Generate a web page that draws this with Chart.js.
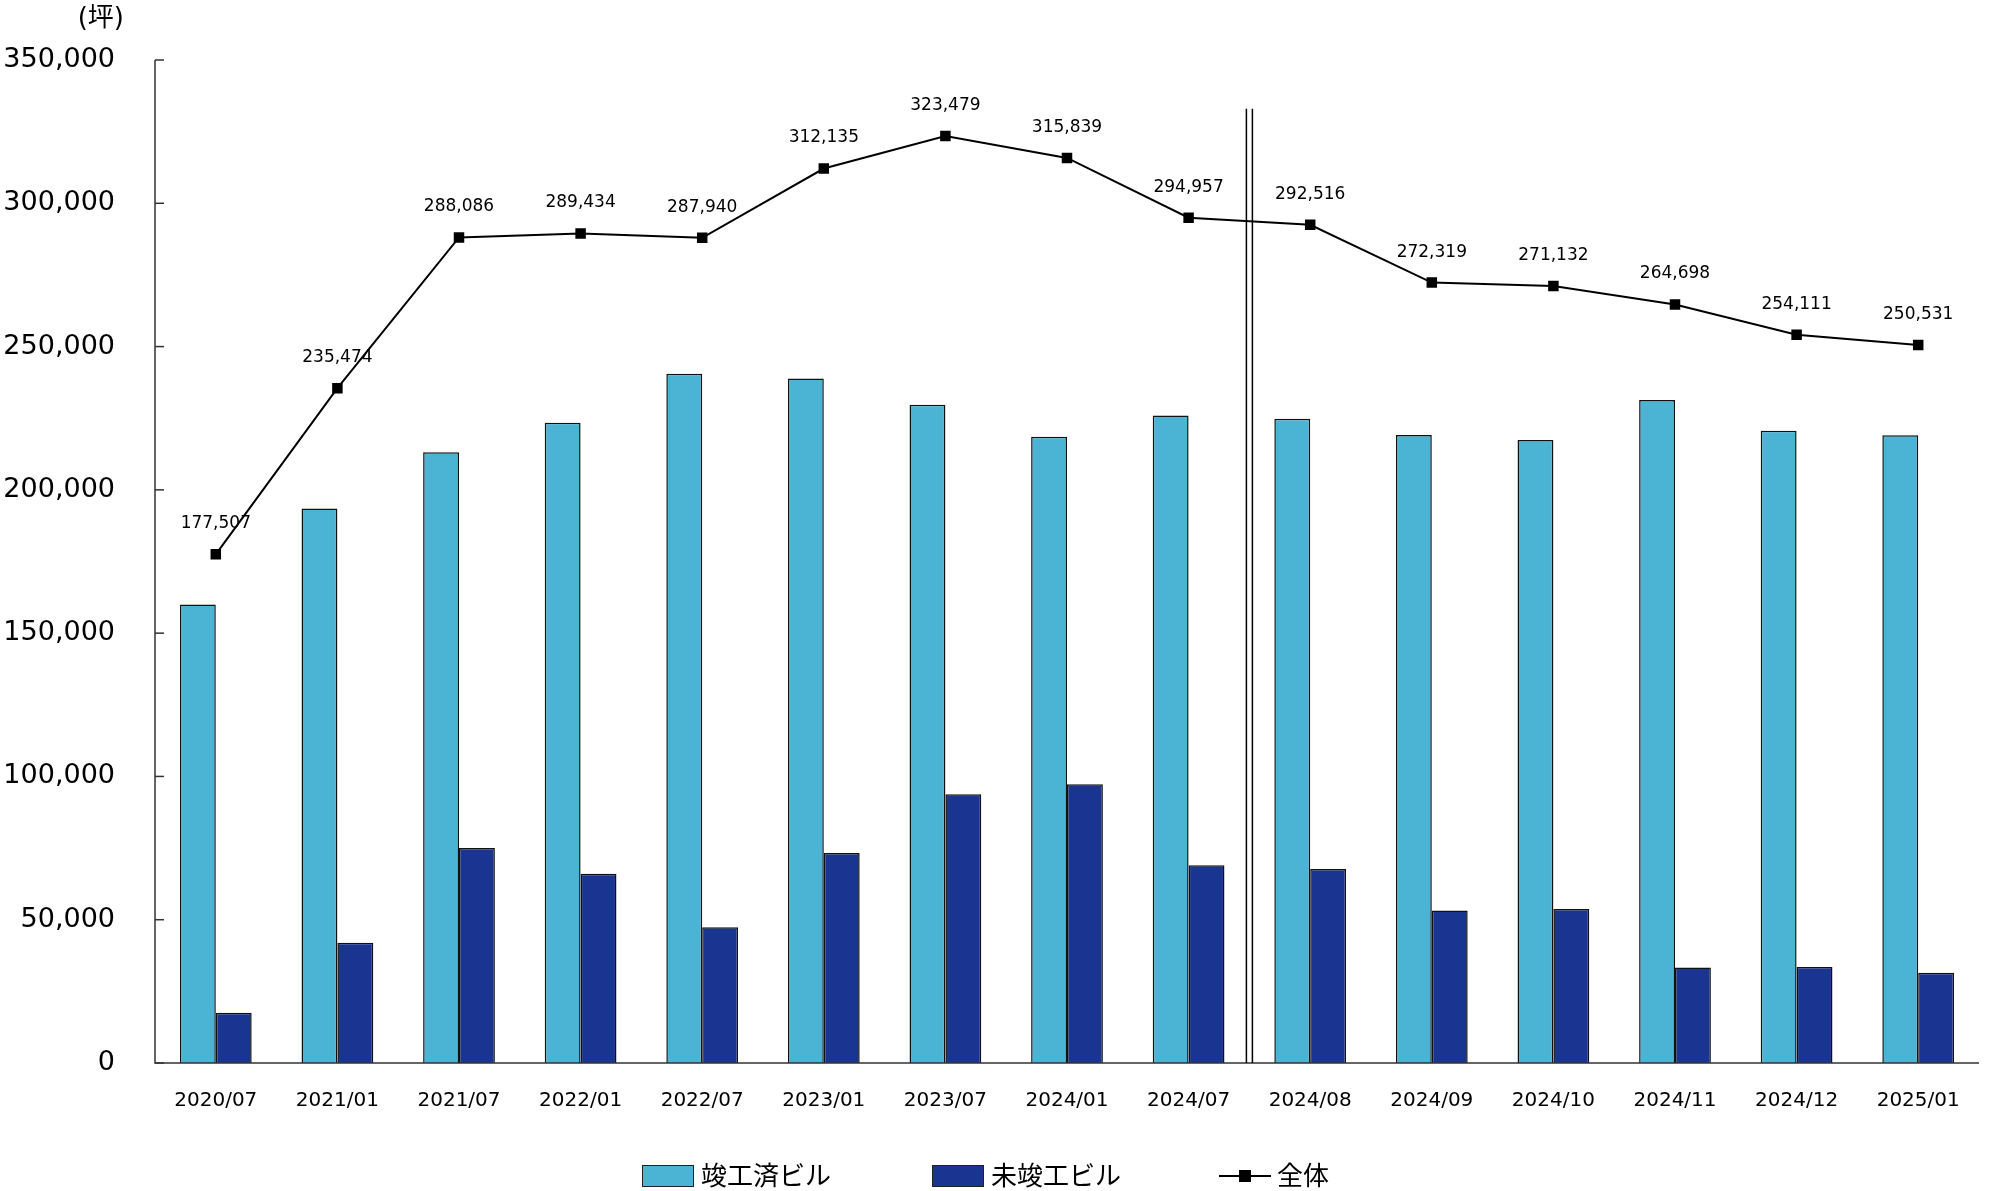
<!DOCTYPE html>
<html><head><meta charset="utf-8">
<script src="https://cdn.jsdelivr.net/npm/chart.js@4"></script>
<style>
body{margin:0;background:#fff;font-family:"DejaVu Sans","Noto Sans CJK JP",sans-serif;}
#wrap{position:relative;width:1991px;height:1191px;}
.lg{position:absolute;top:1160px;font-size:26px;line-height:32px;color:#000;display:flex;align-items:center;}
.bx{display:inline-block;width:50px;height:20px;border:1px solid #222;margin-right:7px;}
</style></head><body>
<div id="wrap"><canvas id="c" width="1991" height="1191"></canvas>
<div class="lg" style="left:642px"><span class="bx" style="background:#4bb3d4"></span>竣工済ビル</div>
<div class="lg" style="left:932px"><span class="bx" style="background:#1a3591"></span>未竣工ビル</div>
<div class="lg" style="left:1219px"><svg width="52" height="20" style="margin-right:6px"><line x1="0" y1="10" x2="52" y2="10" stroke="#000" stroke-width="2"/><rect x="20" y="4" width="12" height="12" fill="#000"/></svg>全体</div>
</div>
<script>
const categories=["2020/07","2021/01","2021/07","2022/01","2022/07","2023/01","2023/07","2024/01","2024/07","2024/08","2024/09","2024/10","2024/11","2024/12","2025/01"];
const totalValues=[177507,235474,288086,289434,287940,312135,323479,315839,294957,292516,272319,271132,264698,254111,250531];
const unfinishedValues=[17500,42000,75000,66000,47400,73300,93800,97300,69000,67700,53200,53700,33300,33500,31500];
const completedValues=[160007,193474,213086,223434,240540,238835,229679,218539,225957,224816,219119,217432,231398,220611,219031];
const yTicks=[0,50000,100000,150000,200000,250000,300000,350000];
const fmt=v=>v.toLocaleString('en-US');
const deco={id:'deco',afterDatasetsDraw(ch){
 const c=ch.ctx,x=ch.scales.x,y=ch.scales.y,a=ch.chartArea;
 c.save();c.strokeStyle='#333';c.lineWidth=1.5;
 c.beginPath();c.moveTo(a.left,a.top);c.lineTo(a.left,a.bottom);c.lineTo(a.right,a.bottom);c.stroke();
 yTicks.forEach(t=>{const p=y.getPixelForValue(t);c.beginPath();c.moveTo(a.left,p);c.lineTo(a.left+9,p);c.stroke();});
 const xm=x.getPixelForValue(8.5);c.strokeStyle='#000';c.lineWidth=1.5;
 [xm-3,xm+3].forEach(px=>{c.beginPath();c.moveTo(px,y.getPixelForValue(333000));c.lineTo(px,a.bottom);c.stroke();});
 c.fillStyle='#000';c.font='26px "DejaVu Sans","Noto Sans CJK JP"';c.textAlign='right';c.textBaseline='top';
 c.fillText('(坪)',124,6);
 c.font='17px "DejaVu Sans"';c.textAlign='center';c.textBaseline='bottom';
 const m=ch.getDatasetMeta(2);
 m.data.forEach((pt,i)=>c.fillText(fmt(totalValues[i]),pt.x,pt.y-22));
 c.restore();}};
new Chart(document.getElementById('c'),{
 data:{labels:categories,datasets:[
  {type:'bar',label:'竣工済ビル',data:completedValues,backgroundColor:'#4bb3d4',borderColor:'#111',borderWidth:1.5,order:2},
  {type:'bar',label:'未竣工ビル',data:unfinishedValues,backgroundColor:'#1a3591',borderColor:'#111',borderWidth:1.5,order:2},
  {type:'line',label:'全体',data:totalValues,borderColor:'#000',borderWidth:2,pointStyle:'rect',pointRadius:6,pointBackgroundColor:'#000',pointBorderColor:'#000',order:1}]},
 options:{responsive:false,animation:false,
  layout:{padding:{top:60,right:12,left:0,bottom:0}},
  plugins:{legend:{display:false},tooltip:{enabled:false}},
  datasets:{bar:{categoryPercentage:0.59,barPercentage:1}},
  scales:{
   x:{grid:{display:false},border:{display:false},ticks:{color:'#000',font:{size:20,family:'DejaVu Sans'},padding:18,maxRotation:0,autoSkip:false},
      afterFit:s=>{s.height=128;}},
   y:{min:0,max:350000,grid:{display:false},border:{display:false},
      afterBuildTicks:s=>{s.ticks=yTicks.map(v=>({value:v}));},
      ticks:{color:'#000',font:{size:27,family:'DejaVu Sans'},padding:32,callback:v=>fmt(v)},
      afterFit:s=>{s.width=155;}}}},
 plugins:[deco]});
</script></body></html>
